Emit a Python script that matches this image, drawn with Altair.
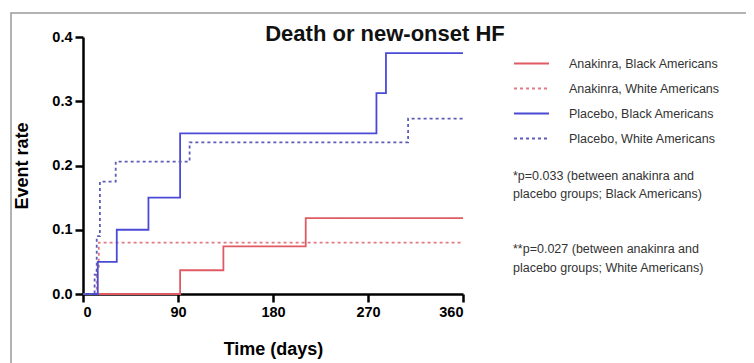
import altair as alt
import pandas as pd

# Series: step-function event times (days) and cumulative event rates
series_names = [
    "Anakinra, Black Americans",
    "Anakinra, White Americans",
    "Placebo, Black  Americans",
    "Placebo, White  Americans",
]
anakinra_black_days = [0, 92, 133, 211, 360]
anakinra_black_rate = [0.0, 0.037, 0.074, 0.118, 0.118]
anakinra_white_days = [0, 13, 15, 360]
anakinra_white_rate = [0.0, 0.04, 0.08, 0.08]
placebo_black_days = [0, 14, 32, 62, 92, 278, 287, 360]
placebo_black_rate = [0.0, 0.05, 0.10, 0.15, 0.25, 0.3125, 0.375, 0.375]
placebo_white_days = [0, 11, 13, 16, 31, 101, 308, 360]
placebo_white_rate = [0.0, 0.03, 0.09, 0.175, 0.206, 0.236, 0.273, 0.273]

colors = ["#e05a64", "#e07a86", "#4a4ad6", "#5c5cb8"]
dashes = [[1, 0], [3, 3], [1, 0], [3, 3]]

x_ticks = [0, 90, 180, 270, 360]
y_ticks = [0.0, 0.1, 0.2, 0.3, 0.4]

title_text = "Death or new-onset HF"
note_lines = [
    "*p=0.033 (between anakinra and",
    "placebo groups; Black Americans)",
    "**p=0.027 (between anakinra and",
    "placebo groups; White Americans)",
]

rows = []
for name, d, r in [
    (series_names[0], anakinra_black_days, anakinra_black_rate),
    (series_names[1], anakinra_white_days, anakinra_white_rate),
    (series_names[2], placebo_black_days, placebo_black_rate),
    (series_names[3], placebo_white_days, placebo_white_rate),
]:
    for dd, rr in zip(d, r):
        rows.append({"series": name, "day": dd, "rate": rr})
df = pd.DataFrame(rows)

FONT = "Liberation Sans"

legend_opts = dict(title=None, orient="none", legendX=430, legendY=8,
                   symbolType="stroke", symbolSize=1225,
                   symbolStrokeWidth=1.8, labelFontSize=12.5,
                   labelFont=FONT, labelColor="#333333",
                   labelOffset=19, rowPadding=-8)

lines = alt.Chart(df).mark_line(interpolate="step-after", strokeWidth=1.8).encode(
    x=alt.X("day:Q", scale=alt.Scale(domain=[0, 360], nice=False),
            axis=alt.Axis(values=x_ticks, title="Time (days)", grid=False)),
    y=alt.Y("rate:Q", scale=alt.Scale(domain=[0, 0.4], nice=False),
            axis=alt.Axis(values=y_ticks, format=".1f", title="Event rate", grid=False)),
    color=alt.Color("series:N", scale=alt.Scale(domain=series_names, range=colors),
                    legend=alt.Legend(**legend_opts)),
    strokeDash=alt.StrokeDash("series:N", scale=alt.Scale(domain=series_names, range=dashes),
                              legend=alt.Legend(**legend_opts)),
    order=alt.Order("day:Q"),
)

frame = alt.Chart(pd.DataFrame({"a": [0]})).mark_rect(
    fill=None, stroke="#9a9a9a", strokeWidth=1.5
).encode(x=alt.value(-72), x2=alt.value(665), y=alt.value(-24), y2=alt.value(400))

title = alt.Chart(pd.DataFrame({"t": [title_text]})).mark_text(
    font=FONT, fontSize=22, fontWeight="bold", color="#111111", align="center", baseline="middle"
).encode(text="t:N", x=alt.value(302), y=alt.value(-3))

notes_df = pd.DataFrame({"t": note_lines, "i": [0, 1, 2, 3]})
notes_df["yy"] = [139, 157, 212, 231]
notes = alt.Chart(notes_df).mark_text(
    font=FONT, fontSize=12.5, color="#333333", align="left", baseline="middle"
).encode(text="t:N", x=alt.value(430), y=alt.Y("yy:Q", scale=None))

chart = alt.layer(frame, lines, title, notes).properties(
    width=380, height=257,
    autosize=alt.AutoSizeParams(type="none"),
    padding={"left": 75, "top": 29, "right": 283, "bottom": 69},
).configure_view(stroke=None).configure_axis(
    domainColor="#000000", domainWidth=2.5, tickColor="#000000", tickWidth=2.5,
    tickSize=8, labelFont=FONT, labelFontSize=14.5, labelFontWeight="bold",
    labelColor="#000000", titleFont=FONT, titleFontSize=18, titleFontWeight="bold",
    titleColor="#000000",
).configure_axisX(labelPadding=3, titlePadding=22).configure_axisY(labelPadding=3, titlePadding=20)

chart.save("out.html", embed_options={"renderer": "svg", "actions": False})
